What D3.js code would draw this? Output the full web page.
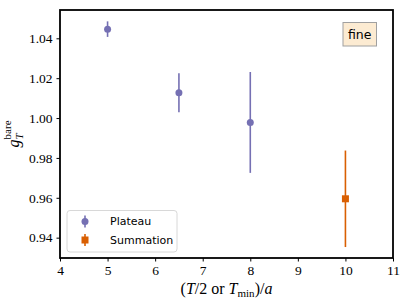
<!DOCTYPE html>
<html>
<head>
<meta charset="utf-8">
<script src="https://cdn.jsdelivr.net/npm/d3@7"></script>
<style>
body { margin: 0; background: #fff; }
svg text { fill: #000; }
</style>
</head>
<body>
<div id="chart"></div>
<script>
// data
var plateauX = [5, 6.5, 8];
var plateauY = [1.0446, 1.0127, 0.9978];
var plateauErr = [0.0039, 0.0098, 0.0253];

var summationX = [10];
var summationY = [0.9595];
var summationErr = [0.0242];

var xTicks = [4, 5, 6, 7, 8, 9, 10, 11];
var yTicks = [0.94, 0.96, 0.98, 1.00, 1.02, 1.04];

var width = 407, height = 305;
var margin = {left: 60, right: 14, top: 10, bottom: 47};

var xScale = d3.scaleLinear().domain([4, 11]).range([margin.left, width - margin.right]);
var yScale = d3.scaleLinear().domain([0.9298, 1.0542]).range([height - margin.bottom, margin.top]);

var serif = "'Liberation Serif', 'DejaVu Serif', serif";
var sans = "'DejaVu Sans', sans-serif";

var svg = d3.select("#chart").append("svg")
    .attr("width", width)
    .attr("height", height);

// axes
var xAxis = svg.append("g")
    .attr("transform", "translate(0," + (height - margin.bottom) + ")")
    .call(d3.axisBottom(xScale).tickValues(xTicks).tickFormat(d3.format("d")).tickSize(3.5).tickPadding(4));
var yAxis = svg.append("g")
    .attr("transform", "translate(" + margin.left + ",0)")
    .call(d3.axisLeft(yScale).tickValues(yTicks).tickFormat(d3.format(".2f")).tickSize(3.5).tickPadding(4));

[xAxis, yAxis].forEach(function(ax) {
    ax.select(".domain").remove();
    ax.selectAll("line").attr("stroke", "#000").attr("stroke-width", 1);
    ax.selectAll("text").attr("font-family", serif).attr("font-size", 13.5);
});

// frame
svg.append("rect")
    .attr("x", margin.left)
    .attr("y", margin.top)
    .attr("width", width - margin.left - margin.right)
    .attr("height", height - margin.top - margin.bottom)
    .attr("fill", "none")
    .attr("stroke", "#000")
    .attr("stroke-width", 1.8);

function drawErrors(xs, ys, errs, color) {
    svg.append("g").selectAll("line")
        .data(xs)
        .enter()
        .append("line")
        .attr("x1", function(d) { return xScale(d); })
        .attr("x2", function(d) { return xScale(d); })
        .attr("y1", function(d, i) { return yScale(ys[i] - errs[i]); })
        .attr("y2", function(d, i) { return yScale(ys[i] + errs[i]); })
        .attr("stroke", color)
        .attr("stroke-width", 1.6);
}

drawErrors(plateauX, plateauY, plateauErr, "#7570b3");
drawErrors(summationX, summationY, summationErr, "#d95f02");

svg.append("g").selectAll("circle")
    .data(plateauX)
    .enter()
    .append("circle")
    .attr("cx", function(d) { return xScale(d); })
    .attr("cy", function(d, i) { return yScale(plateauY[i]); })
    .attr("r", 3.5)
    .attr("fill", "#7570b3");

svg.append("g").selectAll("rect")
    .data(summationX)
    .enter()
    .append("rect")
    .attr("x", function(d) { return xScale(d) - 3.5; })
    .attr("y", function(d, i) { return yScale(summationY[i]) - 3.5; })
    .attr("width", 7)
    .attr("height", 7)
    .attr("fill", "#d95f02");

// legend
var legend = svg.append("g");
legend.append("rect")
    .attr("x", 67).attr("y", 210.5)
    .attr("width", 110).attr("height", 41.5)
    .attr("rx", 3)
    .attr("fill", "#fff")
    .attr("fill-opacity", 0.8)
    .attr("stroke", "#d8d8d8")
    .attr("stroke-width", 1);

var legendItems = [
    {label: "Plateau", color: "#7570b3", shape: "circle"},
    {label: "Summation", color: "#d95f02", shape: "square"}
];
legendItems.forEach(function(item, i) {
    var cy = 221.5 + i * 18.5;
    legend.append("line")
        .attr("x1", 85).attr("x2", 85)
        .attr("y1", cy - 6).attr("y2", cy + 6)
        .attr("stroke", item.color).attr("stroke-width", 1.6);
    if (item.shape === "circle") {
        legend.append("circle").attr("cx", 85).attr("cy", cy).attr("r", 3.5).attr("fill", item.color);
    } else {
        legend.append("rect").attr("x", 81.5).attr("y", cy - 3.5).attr("width", 7).attr("height", 7).attr("fill", item.color);
    }
    legend.append("text")
        .attr("x", 110).attr("y", cy)
        .attr("dy", "0.35em")
        .attr("font-family", sans)
        .attr("font-size", 11)
        .text(item.label);
});

// "fine" tag
svg.append("rect")
    .attr("x", 343).attr("y", 22.5)
    .attr("width", 33.5).attr("height", 23.5)
    .attr("fill", "#fcebd2")
    .attr("stroke", "#a0a0a0")
    .attr("stroke-width", 1);
svg.append("text")
    .attr("x", 359.7).attr("y", 34.5)
    .attr("dy", "0.35em")
    .attr("text-anchor", "middle")
    .attr("font-family", sans)
    .attr("font-size", 12.5)
    .text("fine");

// axis labels
var xl = svg.append("text")
    .attr("x", (margin.left + width - margin.right) / 2)
    .attr("y", 294)
    .attr("text-anchor", "middle")
    .attr("font-family", serif)
    .attr("font-size", 16);
xl.append("tspan").text("(");
xl.append("tspan").attr("font-style", "italic").text("T");
xl.append("tspan").text("/2 or ");
xl.append("tspan").attr("font-style", "italic").text("T");
xl.append("tspan").attr("font-size", 11).attr("dy", 3).text("min");
xl.append("tspan").attr("dy", -3).text(")/");
xl.append("tspan").attr("font-style", "italic").text("a");

var yl = svg.append("text")
    .attr("transform", "translate(19," + ((margin.top + height - margin.bottom) / 2) + ") rotate(-90)")
    .attr("text-anchor", "middle")
    .attr("font-family", serif)
    .attr("font-size", 16);
yl.append("tspan").attr("font-style", "italic").text("g");
yl.append("tspan").attr("font-style", "italic").attr("font-size", 11).attr("dy", 4).attr("dx", 0).text("T");
yl.append("tspan").attr("font-size", 11).attr("dy", -12).attr("dx", -6).text("bare");
</script>
</body>
</html>
